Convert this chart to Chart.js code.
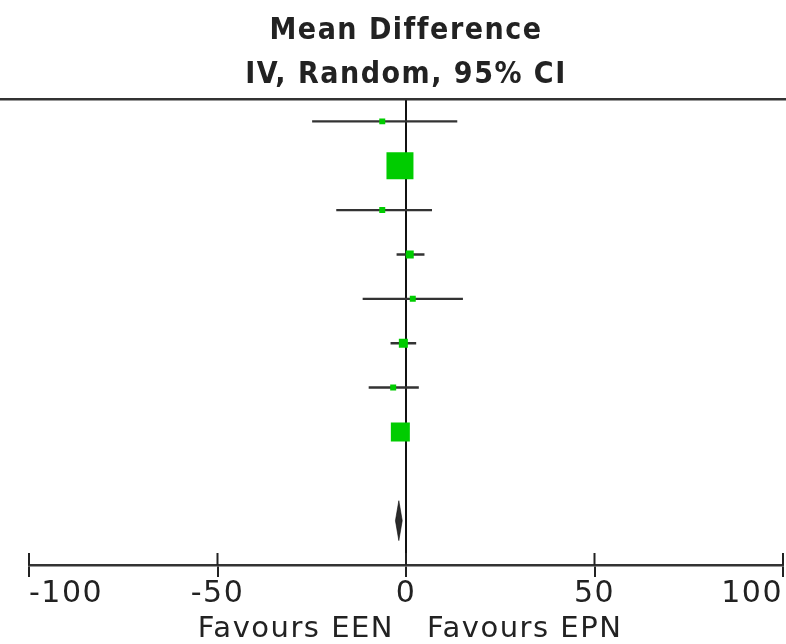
<!DOCTYPE html>
<html>
<head>
<meta charset="utf-8">
<script src="https://cdn.jsdelivr.net/npm/chart.js@4/dist/chart.umd.min.js"></script>
<style>
  html, body { margin: 0; padding: 0; background: #ffffff; }
  #c { display: block; }
</style>
</head>
<body>
<canvas id="c" width="786" height="644"></canvas>
<script>
// ---- data ----
const studyRows = [0, 1, 2, 3, 4, 5, 6, 7];
const meanDiff  = [-6.3, -1.6, -6.3, 1.0, 1.8, -0.7, -3.4, -1.5];
const ciLow     = [-24.9, -3.0, -18.5, -2.5, -11.5, -4.1, -9.9, -2.6];
const ciHigh    = [13.6, -0.2, 6.9, 4.9, 15.1, 2.7, 3.4, -0.4];
const weights   = [2.6, 52.9, 2.6, 4.6, 2.6, 5.9, 2.6, 26.2];   // % weight
const pooledRow  = 9;
const pooledMean = -1.9;
const pooledLow  = -2.8;
const pooledHigh = -1.0;
const tickValues = [-100, -50, 0, 50, 100];
const titleLines = ['Mean Difference', 'IV, Random, 95% CI'];
const favourLabels = ['Favours EEN', 'Favours EPN'];

// ---- derived datasets ----
const squarePoints = studyRows.map((r, i) => ({ x: meanDiff[i], y: r }));
const squareRadius = weights.map(w => 3.71 * Math.sqrt(w) / Math.SQRT2);

const ciPoints = [];
studyRows.forEach((r, i) => {
  ciPoints.push({ x: ciLow[i], y: r });
  ciPoints.push({ x: ciHigh[i], y: r });
  ciPoints.push({ x: meanDiff[i], y: null });
});

const dH = 0.45;
const diamondPoints = [
  { x: pooledLow, y: pooledRow },
  { x: pooledMean, y: pooledRow - dH },
  { x: pooledHigh, y: pooledRow },
  { x: pooledMean, y: pooledRow + dH },
  { x: pooledLow, y: pooledRow }
];

const LABEL_FONT = '"DejaVu Sans", "Liberation Sans", sans-serif';
const TITLE_FONT = '"DejaVu Sans Condensed", "DejaVu Sans", sans-serif';
const SPACING = '1.5px';

const spacingPlugin = {
  id: 'spacing',
  beforeUpdate(chart) { chart.ctx.letterSpacing = SPACING; },
  beforeDraw(chart) { chart.ctx.letterSpacing = SPACING; }
};

const decorPlugin = {
  id: 'decor',
  afterDraw(chart) {
    const ctx = chart.ctx;
    const area = chart.chartArea;
    const xs = chart.scales.x;
    ctx.save();
    // top rule across the full width
    ctx.strokeStyle = '#333';
    ctx.lineWidth = 2.5;
    ctx.beginPath();
    ctx.moveTo(0, area.top);
    ctx.lineTo(chart.width, area.top);
    ctx.stroke();
    // upper halves of tick marks
    ctx.lineWidth = 2;
    ctx.strokeStyle = '#222';
    xs.ticks.forEach(t => {
      const px = xs.getPixelForValue(t.value);
      ctx.beginPath();
      ctx.moveTo(px, area.bottom - 12);
      ctx.lineTo(px, area.bottom);
      ctx.stroke();
    });
    // favours labels
    const zero = xs.getPixelForValue(0);
    ctx.fillStyle = '#222';
    ctx.font = '29px ' + LABEL_FONT;
    ctx.letterSpacing = SPACING;
    ctx.textBaseline = 'alphabetic';
    ctx.textAlign = 'right';
    ctx.fillText(favourLabels[0], zero - 12, 637);
    ctx.textAlign = 'left';
    ctx.fillText(favourLabels[1], zero + 21, 637);
    ctx.restore();
  }
};

new Chart(document.getElementById('c'), {
  data: {
    datasets: [
      {
        type: 'scatter',
        data: squarePoints,
        pointStyle: 'rect',
        pointRadius: squareRadius,
        pointHoverRadius: squareRadius,
        pointBorderWidth: 0,
        backgroundColor: '#00cc00',
        borderColor: '#00cc00'
      },
      {
        type: 'line',
        data: ciPoints,
        borderColor: '#333333',
        borderWidth: 2.4,
        pointRadius: 0,
        spanGaps: false,
        fill: false
      },
      {
        type: 'line',
        data: diamondPoints,
        borderColor: 'rgba(0,0,0,0.55)',
        backgroundColor: '#2a2a2a',
        borderWidth: 1,
        pointRadius: 0,
        fill: 'shape',
        tension: 0
      }
    ]
  },
  options: {
    responsive: false,
    animation: false,
    devicePixelRatio: 1,
    layout: { autoPadding: false, padding: { left: 29, right: 3, top: 0, bottom: 0 } },
    plugins: {
      legend: { display: false },
      tooltip: { enabled: false },
      title: {
        display: true,
        text: titleLines,
        color: '#222',
        font: { family: TITLE_FONT, size: 30, weight: 'bold', lineHeight: 1.47 },
        padding: { top: 9, bottom: 2 }
      }
    },
    scales: {
      x: {
        type: 'linear',
        min: -100,
        max: 100,
        afterBuildTicks: s => { s.ticks = tickValues.map(v => ({ value: v })); },
        afterFit: s => { s.height = 79; s.paddingLeft = 0; s.paddingRight = 0; },
        border: { display: true, color: '#333', width: 2.5 },
        grid: {
          drawOnChartArea: true,
          drawTicks: true,
          tickLength: 12,
          tickColor: '#222',
          tickWidth: 2,
          lineWidth: 2,
          color: c => (c.tick && c.tick.value === 0) ? '#111' : 'rgba(0,0,0,0)'
        },
        ticks: {
          align: 'inner',
          padding: -1,
          color: '#222',
          maxRotation: 0,
          autoSkip: false,
          font: { family: LABEL_FONT, size: 30 }
        }
      },
      y: {
        type: 'linear',
        min: -0.5,
        max: 10,
        reverse: true,
        display: false
      }
    }
  },
  plugins: [spacingPlugin, decorPlugin]
});
</script>
</body>
</html>
